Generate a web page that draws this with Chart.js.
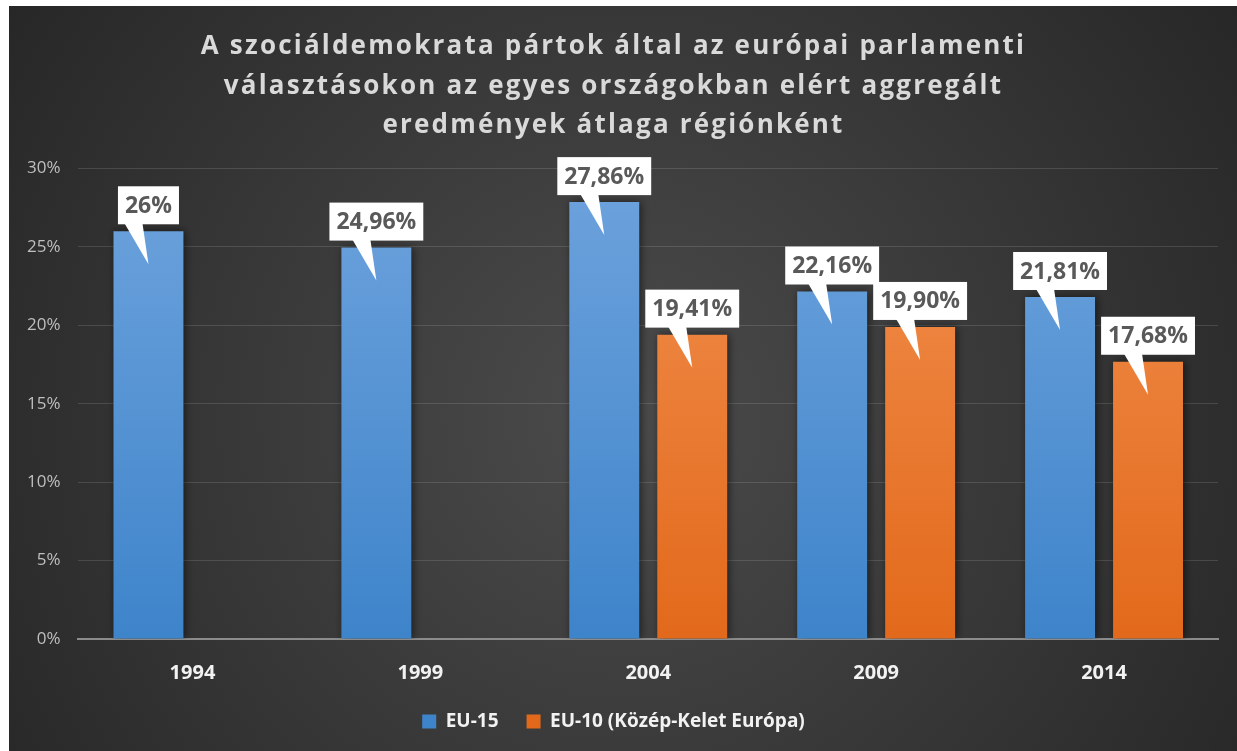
<!DOCTYPE html>
<html>
<head>
<meta charset="utf-8">
<script src="https://cdn.jsdelivr.net/npm/chart.js@4"></script>
<style>
  html, body { margin: 0; padding: 0; background: #fff; }
  #wrap { position: absolute; left: 9px; top: 6px; width: 1228px; height: 745px; }
</style>
</head>
<body>
<div id="wrap"><canvas id="chart"></canvas></div>
<script>
// ===== DATA =====
const years = ["1994", "1999", "2004", "2009", "2014"];
const eu15 = [26, 24.96, 27.86, 22.16, 21.81];
const eu10 = [null, null, 19.41, 19.90, 17.68];
const seriesNames = ["EU-15", "EU-10 (Közép-Kelet Európa)"];
const titleLines = [
  "A szociáldemokrata pártok által az európai parlamenti",
  "választásokon az egyes országokban elért aggregált",
  "eredmények átlaga régiónként"
];

// 26 -> "26%", 19.9 -> "19,90%"
function fmt(v) {
  if (Number.isInteger(v)) return v + "%";
  return v.toFixed(2).replace(".", ",") + "%";
}

function barGradient(top, bottom) {
  return (ctx) => {
    const area = ctx.chart.chartArea;
    if (!area) return top;
    const g = ctx.chart.ctx.createLinearGradient(0, area.top, 0, area.bottom);
    g.addColorStop(0, top);
    g.addColorStop(1, bottom);
    return g;
  };
}

/* =========================
   BACKGROUND (dark radial)
========================= */
const bgPlugin = {
  id: "bg",
  beforeDraw(chart) {
    const c = chart.ctx;
    const w = chart.width, h = chart.height;
    const g = c.createRadialGradient(w * 0.5, h * 0.55, 0, w * 0.5, h * 0.55, w * 0.6);
    g.addColorStop(0, "#4b4b4b");
    g.addColorStop(1, "#272727");
    c.save();
    c.fillStyle = g;
    c.fillRect(0, 0, w, h);
    c.restore();
  }
};

/* =========================
   SPACED-OUT TITLE
   (wrap the title box draw with letterSpacing)
========================= */
const titleSpacingPlugin = {
  id: "titleSpacing",
  afterLayout(chart) {
    const t = chart.titleBlock;
    if (!t || t._spaced) return;
    const orig = t.draw.bind(t);
    t.draw = function (area) {
      const c = chart.ctx;
      c.save();
      c.letterSpacing = "2.2px";
      orig(area);
      c.restore();
    };
    t._spaced = true;
  }
};

/* =========================
   BAR SHADOW
========================= */
const shadowPlugin = {
  id: "barShadow",
  beforeDatasetsDraw(chart) {
    const c = chart.ctx;
    c.save();
    c.shadowColor = "rgba(0,0,0,0.55)";
    c.shadowBlur = 8;
    c.shadowOffsetX = 2;
  },
  afterDatasetsDraw(chart) {
    chart.ctx.restore();
  }
};

/* =========================
   WHITE CALLOUT LABELS
========================= */
const calloutPlugin = {
  id: "callouts",
  afterDraw(chart) {
    const c = chart.ctx;
    c.save();
    c.font = 'bold 23px "Open Sans"';
    c.textAlign = "center";
    c.textBaseline = "middle";
    chart.data.datasets.forEach((ds, i) => {
      chart.getDatasetMeta(i).data.forEach((bar, j) => {
        const v = ds.data[j];
        if (v == null) return;
        const text = fmt(v);
        const w = c.measureText(text).width + 14;
        const h = 38;
        const x = bar.x;
        const bottom = bar.y - 7;
        c.fillStyle = "#ffffff";
        c.fillRect(x - w / 2, bottom - h, w, h);
        c.beginPath();
        c.moveTo(x - 24, bottom - 1);
        c.lineTo(x - 6, bottom - 1);
        c.lineTo(x, bar.y + 33);
        c.closePath();
        c.fill();
        c.fillStyle = "#595959";
        c.fillText(text, x, bottom - h / 2 + 1);
      });
    });
    c.restore();
  }
};

new Chart(document.getElementById("chart"), {
  type: "bar",
  data: {
    labels: years,
    datasets: [
      {
        label: seriesNames[0],
        data: eu15,
        backgroundColor: barGradient("#6ea3dd", "#3e84ca"),
        categoryPercentage: 0.772,
        barPercentage: 0.795
      },
      {
        label: seriesNames[1],
        data: eu10,
        backgroundColor: barGradient("#f2904f", "#e2691b"),
        categoryPercentage: 0.772,
        barPercentage: 0.795
      }
    ]
  },
  options: {
    responsive: true,
    maintainAspectRatio: false,
    animation: false,
    layout: {
      padding: { left: 0, right: 19, top: 0, bottom: 10 }
    },
    plugins: {
      title: {
        display: true,
        text: titleLines,
        color: "#d9d9d9",
        font: { family: "Open Sans", size: 26, weight: "bold", lineHeight: 1.52 },
        padding: { top: 21, bottom: 23 }
      },
      legend: {
        position: "bottom",
        labels: {
          color: "#f2f2f2",
          font: { family: "Open Sans", size: 19, weight: "bold" },
          boxWidth: 14,
          boxHeight: 14,
          padding: 28
        }
      },
      tooltip: { enabled: false }
    },
    scales: {
      x: {
        grid: { display: false },
        border: { display: true, color: "#8c8c8c", width: 2 },
        ticks: {
          color: "#f2f2f2",
          padding: 14,
          font: { family: "Open Sans", size: 20, weight: "bold" }
        },
        afterFit(scale) {
          scale.height -= 15;
        }
      },
      y: {
        min: 0,
        max: 30,
        grid: { color: "rgba(255,255,255,0.13)", drawTicks: false },
        border: { display: false },
        ticks: {
          stepSize: 5,
          padding: 18,
          color: "#bfbfbf",
          font: { family: "Open Sans", size: 17 },
          callback: (v) => v + "%"
        }
      }
    }
  },
  plugins: [bgPlugin, titleSpacingPlugin, shadowPlugin, calloutPlugin]
});
</script>
</body>
</html>
